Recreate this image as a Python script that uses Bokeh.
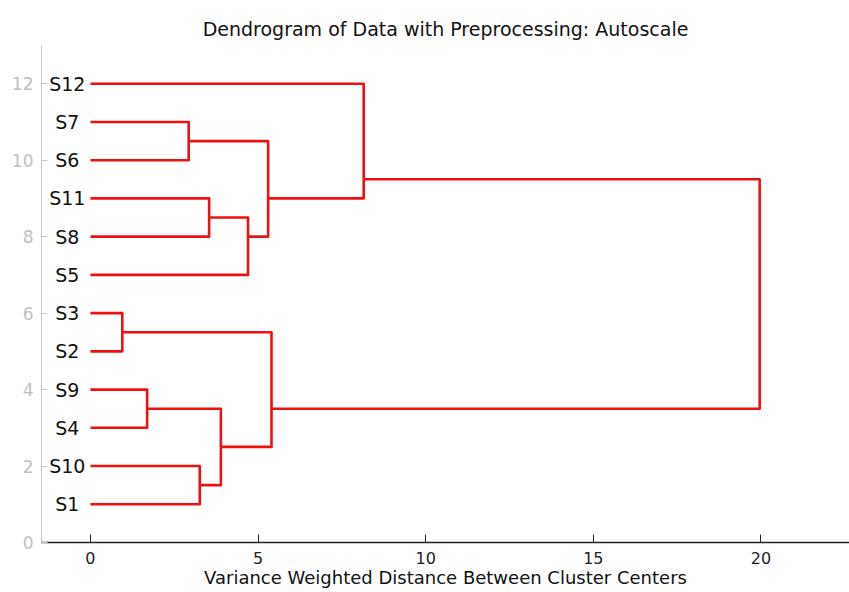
from bokeh.plotting import figure
from bokeh.models import Range1d, FixedTicker, ColumnDataSource
from bokeh.embed import file_html
from bokeh.resources import INLINE
from bokeh.core.properties import value

# ---- data ----
leaf_order = ["S1", "S10", "S4", "S9", "S2", "S3", "S5", "S8", "S11", "S6", "S7", "S12"]
leaf_pos = [1, 2, 3, 4, 5, 6, 7, 8, 9, 10, 11, 12]
merge_left = ["S2", "S4", "S6", "S1", "S8", "m2", "S5", "m3", "m1", "S12", "m9"]
merge_right = ["S3", "S9", "S7", "S10", "S11", "m4", "m5", "m7", "m6", "m8", "m10"]
merge_height = [0.95, 1.69, 2.93, 3.26, 3.54, 3.89, 4.70, 5.30, 5.40, 8.15, 19.96]
x_ticks = [0, 5, 10, 15, 20]
y_ticks = [0, 2, 4, 6, 8, 10, 12]
title_text = "Dendrogram of Data with Preprocessing: Autoscale"
x_label = "Variance Weighted Distance Between Cluster Centers"

# ---- dendrogram geometry from merges ----
members = {n: [p] for n, p in zip(leaf_order, leaf_pos)}
height = {n: 0.0 for n in leaf_order}
xs, ys = [], []
for k, (a, b, h) in enumerate(zip(merge_left, merge_right, merge_height)):
    ya = sum(members[a]) / len(members[a])
    yb = sum(members[b]) / len(members[b])
    xs.append([height[a], h, h, height[b]])
    ys.append([ya, ya, yb, yb])
    nid = "m%d" % (k + 1)
    members[nid] = members[a] + members[b]
    height[nid] = h

FONT = "DejaVu Sans"

p = figure(width=849, height=592, output_backend="svg", toolbar_location=None,
           x_range=Range1d(-1.46, 22.64), y_range=Range1d(0, 13),
           min_border_left=41, min_border_right=0, min_border_top=45, min_border_bottom=50)
p.outline_line_color = None
p.grid.visible = False
p.background_fill_color = "white"
p.border_fill_color = "white"

p.title.text = title_text
p.title.align = "center"
p.title.text_font = FONT
p.title.text_font_size = "19px"
p.title.text_font_style = "normal"
p.title.text_color = "#111111"
p.title.standoff = 11

xa = p.xaxis[0]
xa.ticker = FixedTicker(ticks=x_ticks)
xa.axis_line_color = "#222222"
xa.axis_line_width = 1.5
xa.major_tick_line_color = "#222222"
xa.major_tick_in = 8
xa.major_tick_out = 0
xa.minor_tick_line_color = None
xa.major_label_text_font = FONT
xa.major_label_text_font_size = "16px"
xa.major_label_text_color = "#222222"
xa.major_label_standoff = 9
xa.axis_label = x_label
xa.axis_label_text_font = FONT
xa.axis_label_text_font_size = "18px"
xa.axis_label_text_font_style = "normal"
xa.axis_label_text_color = "#111111"
xa.axis_label_standoff = 0

ya_ = p.yaxis[0]
ya_.ticker = FixedTicker(ticks=y_ticks)
ya_.axis_line_color = "#c8c8c8"
ya_.major_tick_line_color = "#c8c8c8"
ya_.major_tick_in = 6
ya_.major_tick_out = 0
ya_.minor_tick_line_color = None
ya_.major_label_text_font = FONT
ya_.major_label_text_font_size = "17px"
ya_.major_label_text_color = "#c0c0c0"
ya_.major_label_standoff = 8

p.multi_line(xs=xs, ys=ys, line_color="#ee1111", line_width=2.6, line_join="round")

src = ColumnDataSource(dict(x=[-0.69] * len(leaf_order), y=leaf_pos, t=leaf_order))
p.text(x="x", y="y", text="t", source=src, text_align="center", text_baseline="middle",
       text_font=value(FONT), text_font_size="19px", text_color="#111111")

open("out.html", "w").write(file_html(p, INLINE))
